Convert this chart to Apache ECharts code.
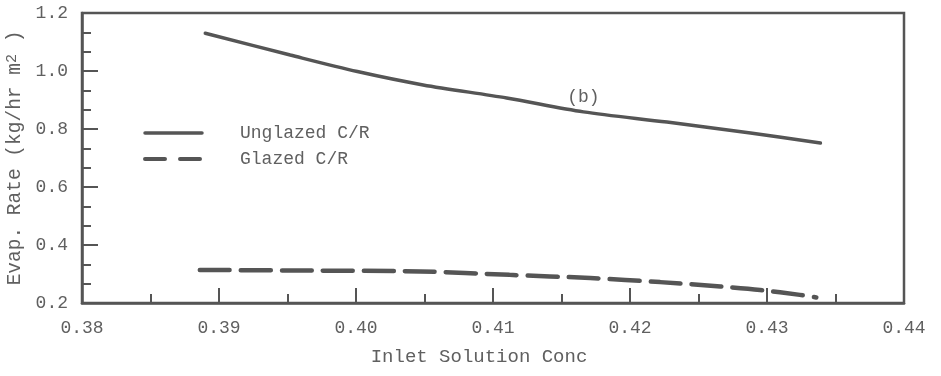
<!DOCTYPE html>
<html>
<head>
<meta charset="utf-8">
<script src="https://cdn.jsdelivr.net/npm/echarts@6/dist/echarts.min.js"></script>
<style>
html,body{margin:0;padding:0;background:#fff;}
#chart{width:941px;height:376px;}
</style>
</head>
<body>
<div id="chart"></div>
<script>
// ---- data ----
var unglazedX = [0.3890, 0.3952, 0.4001, 0.4049, 0.4110, 0.4166, 0.4227, 0.4288, 0.4339];
var unglazedY = [1.130, 1.055, 0.998, 0.952, 0.907, 0.859, 0.824, 0.786, 0.752];
var glazedX = [0.3886, 0.3959, 0.4047, 0.4112, 0.4171, 0.4222, 0.4266, 0.4295, 0.4324, 0.4336];
var glazedY = [0.314, 0.312, 0.309, 0.297, 0.286, 0.272, 0.257, 0.245, 0.228, 0.219];
var seriesNames = ['Unglazed C/R', 'Glazed C/R'];
var annotationText = '(b)';
var annotationAt = [0.4166, 0.910];
var xTicks = [0.38, 0.39, 0.40, 0.41, 0.42, 0.43, 0.44];
var yTicks = [0.2, 0.4, 0.6, 0.8, 1.0, 1.2];

function pairs(xs, ys) { return xs.map(function (x, i) { return [x, ys[i]]; }); }

var FONT = "'Courier New', 'Liberation Mono', monospace";
var INK = '#555555';
var TXT = '#606060';
var CLEAR = 'rgba(0,0,0,0)';

var chart = echarts.init(document.getElementById('chart'), null, {renderer: 'canvas'});
chart.setOption({
  backgroundColor: '#ffffff',
  animation: false,
  grid: {left: 82, right: 37, top: 13, bottom: 73, containLabel: false, outerBoundsMode: 'none',
    show: true, borderColor: INK, borderWidth: 2.5, backgroundColor: 'transparent'},
  legend: {
    left: 143, top: 124, orient: 'vertical', padding: 0, itemWidth: 57, itemHeight: 14, itemGap: 8,
    itemStyle: {color: CLEAR, borderColor: CLEAR, borderWidth: 0, opacity: 0},
    textStyle: {fontFamily: FONT, fontSize: 18, color: TXT, padding: [0, 0, 0, 33]},
    data: [
      {name: seriesNames[0], lineStyle: {width: 3.5}},
      {name: seriesNames[1], lineStyle: {type: [20, 15], width: 4}}
    ]
  },
  xAxis: {
    type: 'value', min: xTicks[0], max: xTicks[xTicks.length - 1], interval: 0.01,
    name: 'Inlet Solution Conc', nameLocation: 'middle', nameGap: 44,
    nameTextStyle: {fontFamily: FONT, fontSize: 19, color: TXT, padding: [0, 28, 0, 0]},
    axisLine: {show: true, lineStyle: {color: INK, width: 2.5}},
    axisTick: {show: true, inside: true, length: 15, lineStyle: {color: INK, width: 2}},
    minorTick: {show: true, splitNumber: 2, length: 9, lineStyle: {color: INK, width: 2}},
    splitLine: {show: false},
    axisLabel: {fontFamily: FONT, fontSize: 18, color: TXT, margin: 16,
      formatter: function (v) { return v.toFixed(2); }}
  },
  yAxis: {
    type: 'value', min: yTicks[0], max: yTicks[yTicks.length - 1], interval: 0.2,
    name: 'Evap. Rate (kg/hr m{sup|2} )', nameLocation: 'middle', nameGap: 56, nameRotate: 90,
    nameTextStyle: {fontFamily: FONT, fontSize: 19.5, color: TXT,
      rich: {sup: {fontFamily: FONT, fontSize: 15, color: TXT, verticalAlign: 'top', lineHeight: 14}}},
    axisLine: {show: true, lineStyle: {color: INK, width: 2.5}},
    axisTick: {show: true, inside: true, length: 16, lineStyle: {color: INK, width: 2}},
    minorTick: {show: true, splitNumber: 3, length: 9, lineStyle: {color: INK, width: 2}},
    splitLine: {show: false},
    axisLabel: {fontFamily: FONT, fontSize: 18, color: TXT, margin: 14,
      formatter: function (v) { return v.toFixed(1); }}
  },
  series: [
    {
      name: seriesNames[0], type: 'line', data: pairs(unglazedX, unglazedY),
      smooth: 0.3, symbol: 'none', lineStyle: {color: INK, width: 3.5, cap: 'round'},
      itemStyle: {color: INK},
      markPoint: {
        symbol: 'circle', symbolSize: 0, silent: true,
        data: [{coord: annotationAt, value: annotationText}],
        label: {show: true, position: 'inside', formatter: annotationText,
          fontFamily: FONT, fontSize: 18, color: TXT}
      }
    },
    {
      name: seriesNames[1], type: 'line', data: pairs(glazedX, glazedY),
      smooth: 0.3, symbol: 'none', lineStyle: {color: INK, width: 4.5, type: [30, 11], cap: 'round'},
      itemStyle: {color: INK}
    }
  ]
});
</script>
</body>
</html>
